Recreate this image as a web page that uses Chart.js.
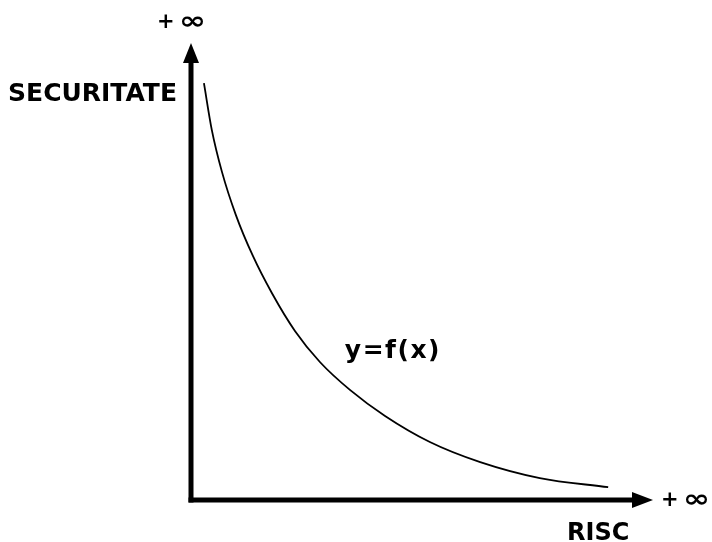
<!DOCTYPE html>
<html>
<head>
<meta charset="utf-8">
<script src="https://cdn.jsdelivr.net/npm/chart.js@4.4.1/dist/chart.umd.min.js"></script>
<style>
  html, body { margin: 0; padding: 0; background: #fff; }
  #wrap { width: 712px; height: 542px; }
</style>
</head>
<body>
<div id="wrap"><canvas id="chart"></canvas></div>
<script>
// risc (x) vs securitate (y), curve
const riscValues = [2.8, 4.5, 6.7, 9.7, 13.4, 17.5, 22.5, 27.9, 34.4, 42.0, 51.7, 62.6, 75.5, 90.3];
const securitateValues = [91.2, 81.0, 71.8, 62.4, 53.4, 45.3, 37.0, 30.2, 24.1, 18.4, 12.7, 8.3, 4.8, 2.8];
const axisX = [0, 100];
const axisY = [0, 100];
const xAxisLabel = "RISC";
const yAxisLabel = "SECURITATE";
const curveLabel = "y=f(x)";
const plusSign = "+";
const infinitySign = "\u221E";

const curvePoints = riscValues.map((x, i) => ({ x: x, y: securitateValues[i] }));

function drawInfinity(ctx, left, centerY) {
  ctx.save();
  ctx.textAlign = "left";
  ctx.textBaseline = "alphabetic";
  ctx.font = "bold 21px 'DejaVu Sans'";
  ctx.fillText(plusSign, left - 2, centerY + 6);
  ctx.translate(left + 20, centerY + 7);
  ctx.scale(1.35, 1.05);
  ctx.font = "bold 24px 'DejaVu Sans'";
  ctx.fillText(infinitySign, 0, 0);
  ctx.restore();
}

const axesPlugin = {
  id: "axesDecor",
  afterDatasetsDraw(chart) {
    const { ctx, scales } = chart;
    const x0 = scales.x.getPixelForValue(0);
    const y0 = scales.y.getPixelForValue(0);
    const xEnd = scales.x.getPixelForValue(axisX[1]);
    const yEnd = scales.y.getPixelForValue(axisY[1]);
    ctx.save();
    ctx.fillStyle = "#000";
    // arrow heads
    ctx.beginPath();
    ctx.moveTo(x0, yEnd);
    ctx.lineTo(x0 + 8, yEnd + 20);
    ctx.lineTo(x0 - 8, yEnd + 20);
    ctx.closePath();
    ctx.fill();
    ctx.beginPath();
    ctx.moveTo(xEnd, y0);
    ctx.lineTo(xEnd - 21, y0 - 8);
    ctx.lineTo(xEnd - 21, y0 + 8);
    ctx.closePath();
    ctx.fill();

    ctx.textBaseline = "alphabetic";
    ctx.font = "bold 25px 'DejaVu Sans'";
    ctx.textAlign = "right";
    ctx.fillText(yAxisLabel, x0 - 14, 101);
    ctx.font = "bold 24px 'DejaVu Sans'";
    ctx.textAlign = "left";
    ctx.fillText(xAxisLabel, xEnd - 86, 540);
    ctx.font = "bold 25px 'DejaVu Sans'";
    ctx.letterSpacing = "1.5px";
    ctx.fillText(curveLabel, scales.x.getPixelForValue(33.3), 358);
    ctx.letterSpacing = "0px";
    ctx.restore();

    drawInfinity(ctx, x0 - 32, 22);
    drawInfinity(ctx, xEnd + 10, y0);
  }
};

new Chart(document.getElementById("chart"), {
  type: "scatter",
  data: {
    datasets: [
      {
        data: curvePoints,
        showLine: true,
        borderColor: "#000",
        borderWidth: 1.8,
        pointRadius: 0,
        cubicInterpolationMode: "monotone",
      },
      {
        data: [{ x: axisX[0], y: 0 }, { x: axisX[1] - 3, y: 0 }],
        showLine: true,
        borderColor: "#000",
        borderWidth: 5,
        pointRadius: 0,
        borderCapStyle: "square",
      },
      {
        data: [{ x: 0, y: axisY[0] }, { x: 0, y: axisY[1] - 3 }],
        showLine: true,
        borderColor: "#000",
        borderWidth: 5,
        pointRadius: 0,
        borderCapStyle: "square",
      },
    ],
  },
  options: {
    responsive: true,
    maintainAspectRatio: false,
    animation: false,
    clip: false,
    layout: { padding: { left: 191, right: 59, top: 43, bottom: 42 } },
    plugins: { legend: { display: false }, tooltip: { enabled: false } },
    scales: {
      x: { type: "linear", min: 0, max: 100, display: false },
      y: { type: "linear", min: 0, max: 100, display: false },
    },
  },
  plugins: [axesPlugin],
});
</script>
</body>
</html>
